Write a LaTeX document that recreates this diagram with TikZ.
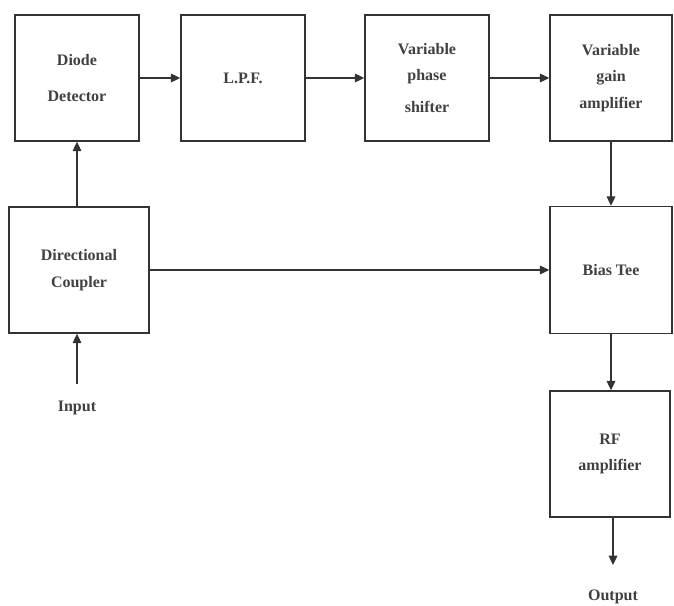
\documentclass[tikz,border=0pt]{standalone}
\usepackage{fontspec}
\setmainfont{Liberation Serif}
\usetikzlibrary{arrows.meta}
\begin{document}
\begin{tikzpicture}[x=0.75pt,y=-0.75pt,
  blk/.style={draw=black!80,line width=1.1pt,rectangle,inner sep=0pt,
    align=center,font=\fontsize{12}{20}\selectfont\bfseries,text=black!75},
  conn/.style={draw=black!80,line width=0.9pt,-{Triangle[length=7pt,width=6.5pt]}},
  lbl/.style={font=\fontsize{12}{14}\selectfont\bfseries,text=black!75,inner sep=0pt}]
\useasboundingbox (0,0) rectangle (674,606);
\node[blk,minimum width=124*0.75pt,minimum height=126*0.75pt] (dd) at (77,78) {Diode\\[7pt]Detector};
\node[blk,minimum width=124*0.75pt,minimum height=126*0.75pt] (lpf) at (243,78) {L.P.F.};
\node[blk,minimum width=124*0.75pt,minimum height=126*0.75pt] (ps) at (427,78) {Variable\\phase\\[4pt]shifter};
\node[blk,minimum width=122*0.75pt,minimum height=126*0.75pt] (vga) at (611,78) {Variable\\gain\\amplifier};
\node[blk,minimum width=140*0.75pt,minimum height=126*0.75pt] (dc) at (79,270) {Directional\\Coupler};
\node[blk,minimum width=122*0.75pt,minimum height=127*0.75pt] (bt) at (611,270) {Bias Tee};
\node[blk,minimum width=120*0.75pt,minimum height=126*0.75pt] (rf) at (610,454) {RF\\amplifier};
\node[lbl] (in) at (77,408) {Input};
\node[lbl] (out) at (613,597) {Output};
\coordinate (inS) at (77,384);
\coordinate (outE) at (613,565);
\draw[conn] (dd.east) -- (lpf.west);
\draw[conn] (lpf.east) -- (ps.west);
\draw[conn] (ps.east) -- (vga.west);
\draw[conn] (dc.north -| 77,0) -- (dd.south -| 77,0);
\draw[conn] (dc.east) -- (bt.west);
\draw[conn] (vga.south) -- (bt.north);
\draw[conn] (bt.south) -- (rf.north -| bt.south);
\draw[conn] (rf.south -| outE) -- (outE);
\draw[conn] (inS) -- (dc.south -| inS);
\end{tikzpicture}
\end{document}
